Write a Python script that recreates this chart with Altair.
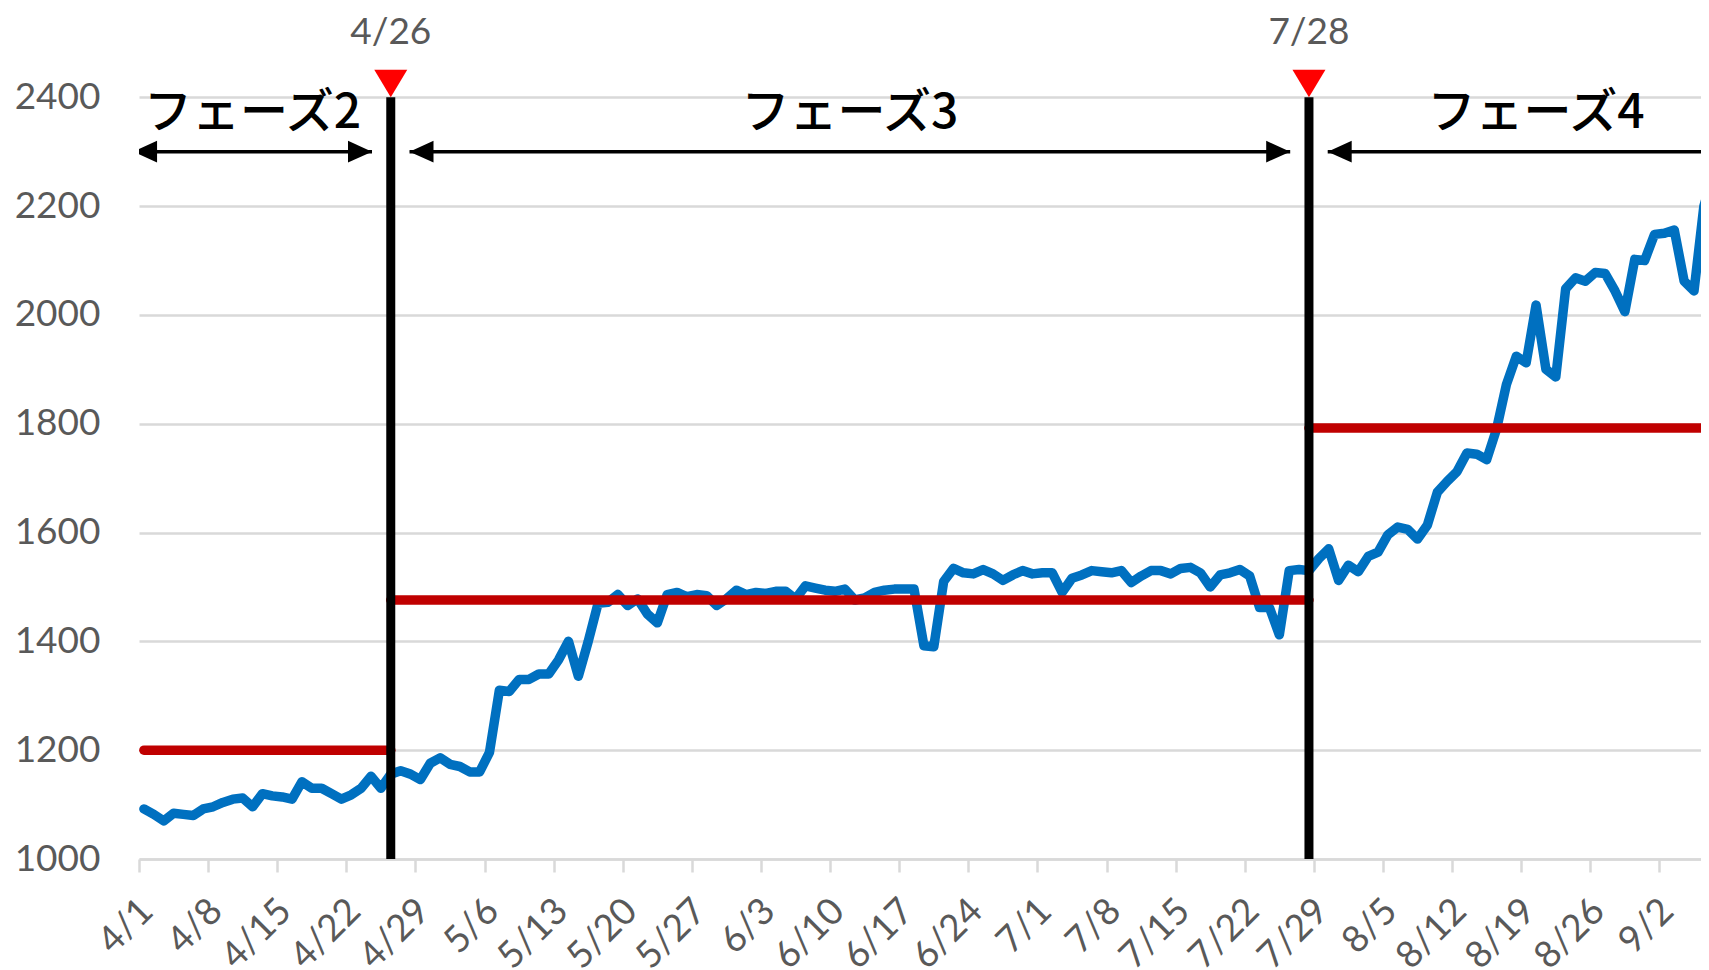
import altair as alt
import pandas as pd

# ---- data ----
values = [
    1092, 1082, 1070, 1084, 1082, 1080, 1092, 1096, 1104, 1110,
    1112, 1096, 1120, 1116, 1114, 1110, 1142, 1130, 1130, 1120,
    1110, 1118, 1130, 1152, 1130, 1156, 1162, 1156, 1146, 1176,
    1186, 1174, 1170, 1160, 1160, 1196, 1310, 1308, 1330, 1330,
    1340, 1340, 1366, 1400, 1336, 1400, 1470, 1472, 1486, 1466,
    1478, 1450, 1434, 1486, 1490, 1482, 1486, 1484, 1466, 1478,
    1494, 1486, 1490, 1488, 1492, 1492, 1478, 1502, 1498, 1494,
    1492, 1496, 1476, 1480, 1490, 1494, 1496, 1496, 1496, 1392,
    1390, 1510, 1534, 1526, 1524, 1532, 1524, 1512, 1522, 1530,
    1524, 1526, 1526, 1490, 1516, 1522, 1530, 1528, 1526, 1530,
    1508, 1520, 1530, 1530, 1524, 1534, 1536, 1526, 1500, 1522,
    1526, 1532, 1520, 1462, 1462, 1412, 1530, 1532, 1530, 1552,
    1570, 1512, 1540, 1528, 1556, 1564, 1596, 1610, 1606, 1588,
    1614, 1674, 1694, 1712, 1746, 1744, 1734, 1790, 1872, 1924,
    1912, 2018, 1900, 1886, 2048, 2068, 2062, 2078, 2076, 2044,
    2006, 2102, 2100, 2148, 2150, 2156, 2062, 2044, 2200, 2260,
]
first_date = "2021-04-01 12:00"

phase_names = ["フェーズ2", "フェーズ3", "フェーズ4"]
phase_starts = ["2021-03-29 12:00", "2021-04-26 12:00", "2021-07-28 12:00"]
phase_ends = ["2021-04-26 12:00", "2021-07-28 12:00", "2021-09-12 12:00"]
phase_levels = [1200, 1476, 1792]

marker_dates = ["2021-04-26 12:00", "2021-07-28 12:00"]
marker_labels = ["4/26", "7/28"]

y_ticks = [1000, 1200, 1400, 1600, 1800, 2000, 2200, 2400]
x_tick_dates = pd.date_range("2021-04-01", "2021-09-02", freq="7D")

# ---- tables ----
dates = pd.date_range(first_date, periods=len(values), freq="D")
df = pd.DataFrame({"date": dates, "value": values})

gap = pd.Timedelta(days=1.9)
ps = pd.to_datetime(phase_starts)
pe = pd.to_datetime(phase_ends)
phases = pd.DataFrame({
    "name": phase_names,
    "lstart": [max(s, dates[0]) for s in ps],
    "lend": pe,
    "level": phase_levels,
    "astart": ps + gap,
    "aend": pe - gap,
})
phases["mid"] = phases["astart"] + (phases["aend"] - phases["astart"]) / 2

markers = pd.DataFrame({"date": pd.to_datetime(marker_dates), "label": marker_labels})

# ---- scales / axes ----
x_scale = alt.Scale(
    domain=[alt.DateTime(year=2021, month=4, date=1),
            alt.DateTime(year=2021, month=9, date=6, hours=5)],
    nice=False,
)
y_scale = alt.Scale(domain=[1000, 2564], nice=False, zero=False)

x_axis = alt.Axis(
    values=[alt.DateTime(year=d.year, month=d.month, date=d.day) for d in x_tick_dates],
    format="%-m/%-d", labelAngle=315, labelAlign="right", labelBaseline="middle",
    labelFont="Lato", labelFontSize=37, labelColor="#595959",
    tickColor="#d9d9d9", tickSize=13, tickWidth=2.5,
    domainColor="#d9d9d9", domainWidth=2.5, labelPadding=33, labelOffset=8,
    grid=False, labelOverlap=False, labelFlush=False,
    minExtent=95, maxExtent=95, title=None,
)
y_axis = alt.Axis(
    values=y_ticks, format="d", labelFont="Lato", labelFontSize=37, labelColor="#595959",
    ticks=False, domain=False, grid=True, gridColor="#d9d9d9", gridWidth=2.5,
    labelPadding=39, minExtent=131, maxExtent=131, title=None,
)


def X(f):
    return alt.X(f, scale=x_scale, axis=x_axis, title=None)


def Yd(v):
    return alt.Y(datum=v, scale=y_scale, axis=y_axis, title=None)


line = alt.Chart(df).mark_line(
    color="#0070C0", strokeWidth=9.5, strokeJoin="round", strokeCap="round", clip=True
).encode(
    x=X("date:T"),
    y=alt.Y("value:Q", scale=y_scale, axis=y_axis, title=None),
)

red = alt.Chart(phases).mark_rule(
    color="#C00000", strokeWidth=9.5, strokeCap="round", clip=True
).encode(x=X("lstart:T"), x2="lend:T",
         y=alt.Y("level:Q", scale=y_scale, axis=y_axis, title=None))

vlines = alt.Chart(markers).mark_rule(color="black", strokeWidth=9).encode(
    x=X("date:T"), y=Yd(1000), y2=alt.datum(2400)
)

tri = alt.Chart(markers).mark_point(
    shape="M0,0L-1.2,-2L1.2,-2Z", filled=True, color="#FF0000", size=756,
    opacity=1, strokeWidth=0
).encode(x=X("date:T"), y=Yd(2400))

top_labels = alt.Chart(markers).mark_text(
    font="Lato", fontSize=37, color="#595959", baseline="middle"
).encode(x=X("date:T"), y=Yd(2518), text="label:N")

arrow_line = alt.Chart(phases).mark_rule(color="black", strokeWidth=3.5, clip=True).encode(
    x=X("astart:T"), x2="aend:T", y=Yd(2300)
)
head_left = alt.Chart(phases).mark_point(
    shape="M0,0L2,-0.9L2,0.9Z", filled=True, color="black", size=576,
    opacity=1, strokeWidth=0, clip=True
).encode(x=X("astart:T"), y=Yd(2300))
head_right = alt.Chart(phases).mark_point(
    shape="M0,0L-2,-0.9L-2,0.9Z", filled=True, color="black", size=576,
    opacity=1, strokeWidth=0, clip=True
).encode(x=X("aend:T"), y=Yd(2300))

phase_text = alt.Chart(phases).mark_text(
    font="Noto Sans CJK JP", fontSize=48, fontWeight=500, color="black", baseline="middle"
).encode(x=X("mid:T"), y=Yd(2370), text="name:N")

chart = alt.layer(
    line, red, vlines, tri, top_labels, arrow_line, head_left, head_right, phase_text
).properties(
    width=1562, height=851, padding=0, background="white"
).configure_view(stroke=None)

chart.save("out.html", embed_options={"renderer": "svg", "actions": False})
